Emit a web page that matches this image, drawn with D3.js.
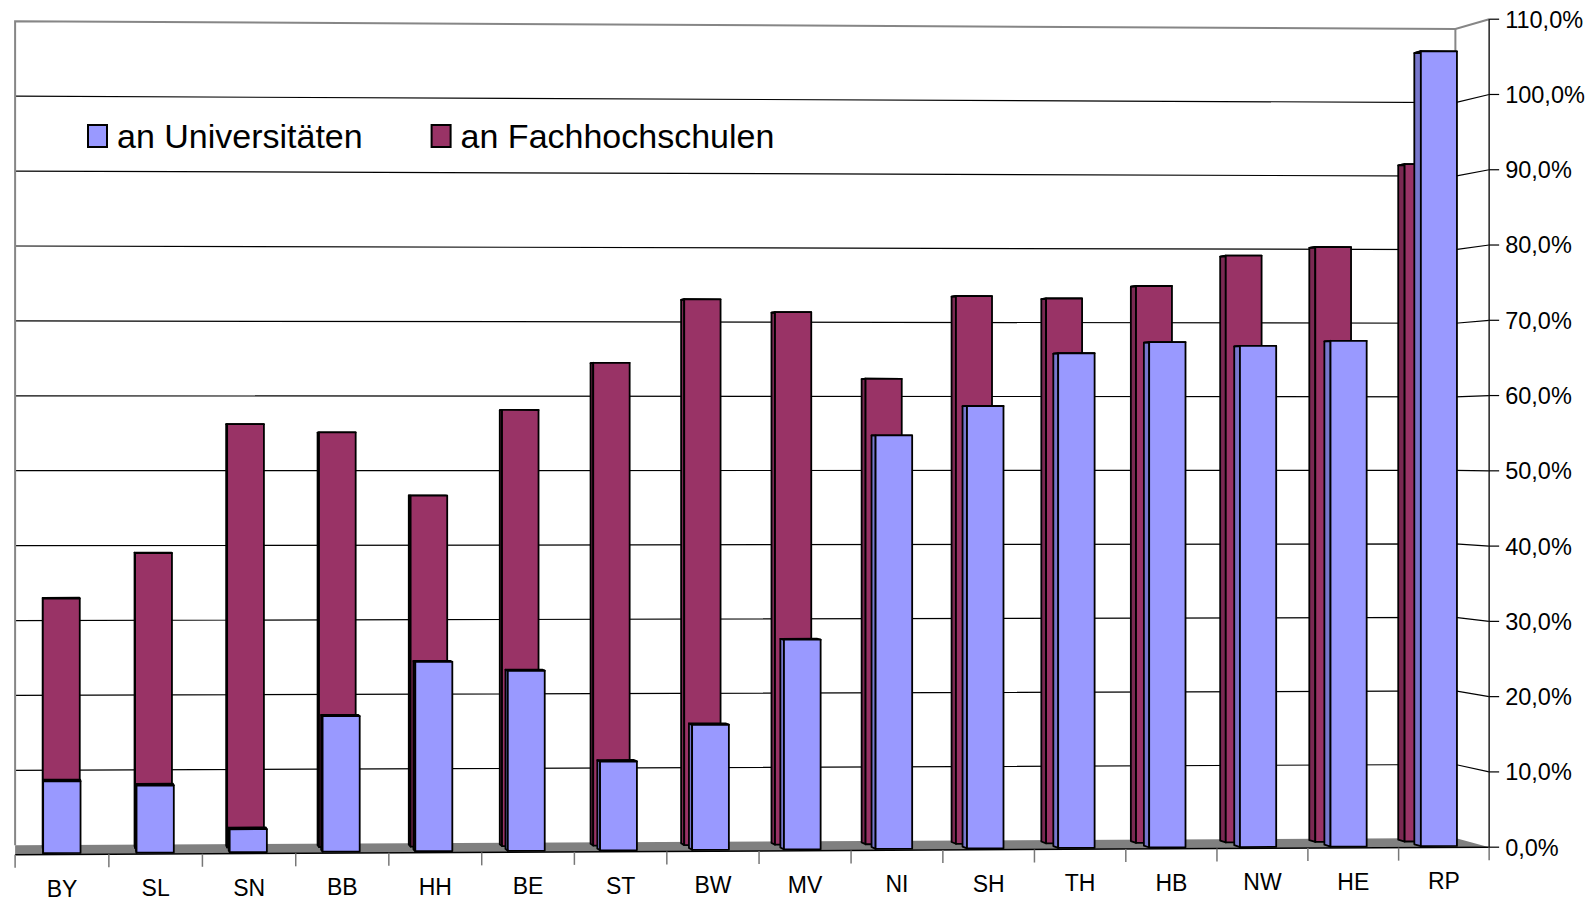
<!DOCTYPE html>
<html>
<head>
<meta charset="utf-8">
<script src="https://cdn.jsdelivr.net/npm/d3@7"></script>
<style>
  body { margin: 0; background: #fff; }
  text { font-family: "Liberation Sans", Arial, sans-serif; fill: #000; }
</style>
</head>
<body>
<div class="canvas"></div>
<script>
// data
const categories = ["BY", "SL", "SN", "BB", "HH", "BE", "ST", "BW", "MV", "NI", "SH", "TH", "HB", "NW", "HE", "RP"]
const uniValues = [9.4, 8.8, 3.0, 17.8, 24.9, 23.7, 11.7, 16.5, 27.7, 54.7, 58.6, 65.6, 67.1, 66.6, 67.3, 105.9]
const fhValues = [33.1, 39.1, 56.2, 55.1, 46.7, 58.1, 64.4, 72.9, 71.2, 62.3, 73.4, 73.1, 74.8, 78.9, 80.1, 91.3]
const seriesNames = ["an Universitäten", "an Fachhochschulen"]
const valueTicks = [0, 10, 20, 30, 40, 50, 60, 70, 80, 90, 100, 110]

/**
 * Dimensions and camera
 */
const dims = { width: 1596, height: 902 }
const cam = { f: 7670, cx: 766, cy: 449, z0: 1000, tan: 0.0979 }
const theta = Math.atan(cam.tan)
const sinT = Math.sin(theta), cosT = Math.cos(theta)
const world = { W: 194.9, D: 24.0, H: 110, y0: -52.9, x0: -cam.z0 * cam.tan }

// project chart space (u along categories, v value height, w depth) to screen
const proj = (u, v, w) => {
    const X = world.x0 + u * cosT - w * sinT
    const Y = world.y0 + v
    const Z = cam.z0 + u * sinT + w * cosT
    return [cam.cx + cam.f * X / Z, cam.cy - cam.f * Y / Z]
}
const path = pts => "M" + pts.map(p => p.join(",")).join("L") + "Z"
const line = pts => "M" + pts.map(p => p.join(",")).join("L")

/**
 * Scales
 */
const x = d3.scaleBand()
    .domain(categories)
    .range([0, world.W])
    .paddingInner(0.6)
    .paddingOuter(0.3)

const depth = d3.scaleBand()
    .domain(["uni", "fh"])
    .range([0, world.D])
    .paddingInner(0.6)
    .paddingOuter(0.3)

const y = d3.scaleLinear()
    .domain([0, 110])
    .range([0, world.H])

const locale = d3.formatLocale({ decimal: ",", thousands: ".", grouping: [3], currency: ["", "€"] })
const fmt = d => locale.format(".1f")(d) + "%"

const svg = d3.select(".canvas")
    .append("svg")
    .attr("width", dims.width)
    .attr("height", dims.height)

const W = world.W, D = world.D, H = y(110)

/**
 * Walls
 */
svg.append("path")
    .attr("fill", "#fff")
    .attr("d", path([proj(0, 0, D), proj(W, 0, D), proj(W, H, D), proj(0, H, D)]))

svg.append("path")
    .attr("fill", "#fff")
    .attr("d", path([proj(W, 0, D), proj(W, 0, 0), proj(W, H, 0), proj(W, H, D)]))

// gridlines on back and side wall
svg.selectAll(".grid")
    .data(valueTicks.filter(d => d > 0 && d < 110))
    .enter()
    .append("path")
    .attr("class", "grid")
    .attr("fill", "none")
    .attr("stroke", "#000")
    .attr("stroke-width", 1.2)
    .attr("d", d => line([proj(0, y(d), D), proj(W, y(d), D), proj(W, y(d), 0)]))

// floor
svg.append("path")
    .attr("fill", "#808080")
    .attr("d", path([proj(0, 0, 0), proj(W, 0, 0), proj(W, 0, D), proj(0, 0, D)]))

// wall borders
svg.append("path")
    .attr("fill", "none")
    .attr("stroke", "#868686")
    .attr("stroke-width", 2)
    .attr("d", line([proj(0, 0, D), proj(0, H, D), proj(W, H, D), proj(W, H, 0)]))

svg.append("path")
    .attr("fill", "none")
    .attr("stroke", "#868686")
    .attr("stroke-width", 2)
    .attr("d", line([proj(W, H, D), proj(W, 0, D)]))

/**
 * Bars
 */
const series = [
    { key: "fh", values: fhValues, front: "#993366", side: "#7a2952", top: "#b05a86" },
    { key: "uni", values: uniValues, front: "#9999ff", side: "#7777cc", top: "#b8b8ff" }
]

series.forEach(s => {
    const w0 = depth(s.key), w1 = depth(s.key) + depth.bandwidth()
    const bars = svg.selectAll(".bar-" + s.key)
        .data(categories.map((c, i) => ({ cat: c, value: s.values[i] })))
        .enter()
        .append("g")
        .attr("class", "bar-" + s.key)

    const faceStyle = sel => sel
        .attr("stroke", "#000")
        .attr("stroke-width", 1.8)
        .attr("stroke-linejoin", "round")

    // left side face
    bars.append("path")
        .call(faceStyle)
        .attr("fill", s.side)
        .attr("d", d => {
            const u0 = x(d.cat), h = y(d.value)
            return path([proj(u0, 0, w0), proj(u0, 0, w1), proj(u0, h, w1), proj(u0, h, w0)])
        })

    // top face
    bars.append("path")
        .call(faceStyle)
        .attr("fill", s.top)
        .attr("d", d => {
            const u0 = x(d.cat), u1 = u0 + x.bandwidth(), h = y(d.value)
            return path([proj(u0, h, w0), proj(u1, h, w0), proj(u1, h, w1), proj(u0, h, w1)])
        })

    // front face
    bars.append("path")
        .call(faceStyle)
        .attr("fill", s.front)
        .attr("d", d => {
            const u0 = x(d.cat), u1 = u0 + x.bandwidth(), h = y(d.value)
            return path([proj(u0, 0, w0), proj(u1, 0, w0), proj(u1, h, w0), proj(u0, h, w0)])
        })
})

/**
 * Axes
 */
// category axis along front edge of floor
svg.append("path")
    .attr("fill", "none")
    .attr("stroke", "#000")
    .attr("stroke-width", 1.5)
    .attr("d", line([proj(0, 0, 0), proj(W, 0, 0)]))

const step = x.step()
svg.selectAll(".ctick")
    .data(d3.range(categories.length + 1))
    .enter()
    .append("path")
    .attr("class", "ctick")
    .attr("stroke", "#777")
    .attr("stroke-width", 1.5)
    .attr("d", i => {
        const p = proj(i * step, 0, 0)
        return line([p, [p[0], p[1] + 13]])
    })

svg.selectAll(".clabel")
    .data(categories)
    .enter()
    .append("text")
    .attr("class", "clabel")
    .attr("text-anchor", "middle")
    .attr("font-size", 23)
    .attr("x", d => proj(x(d) + x.bandwidth() / 2, 0, 0)[0])
    .attr("y", d => proj(x(d) + x.bandwidth() / 2, 0, 0)[1] + 42)
    .text(d => d)

// value axis at front right corner
svg.append("path")
    .attr("fill", "none")
    .attr("stroke", "#222")
    .attr("stroke-width", 1.5)
    .attr("d", line([proj(W, 0, 0), proj(W, H, 0)]))

const vticks = svg.selectAll(".vtick")
    .data(valueTicks)
    .enter()
    .append("g")
    .attr("class", "vtick")
    .attr("transform", d => `translate(${proj(W, y(d), 0).join(",")})`)

vticks.append("line")
    .attr("x2", 10)
    .attr("stroke", "#000")
    .attr("stroke-width", 1.2)

vticks.append("text")
    .attr("x", 16)
    .attr("dy", "0.36em")
    .attr("font-size", 23.5)
    .text(d => fmt(d))

/**
 * Legend
 */
const legendX = [88, 431.6]
const legendColors = [series[1].front, series[0].front]
const legend = svg.selectAll(".legend")
    .data(seriesNames)
    .enter()
    .append("g")
    .attr("class", "legend")
    .attr("transform", (d, i) => `translate(${legendX[i]}, 125)`)

legend.append("rect")
    .attr("width", 19)
    .attr("height", 22)
    .attr("fill", (d, i) => legendColors[i])
    .attr("stroke", "#000")
    .attr("stroke-width", 2)

legend.append("text")
    .attr("x", 29)
    .attr("y", 23)
    .attr("font-size", 34)
    .text(d => d)
</script>
</body>
</html>
